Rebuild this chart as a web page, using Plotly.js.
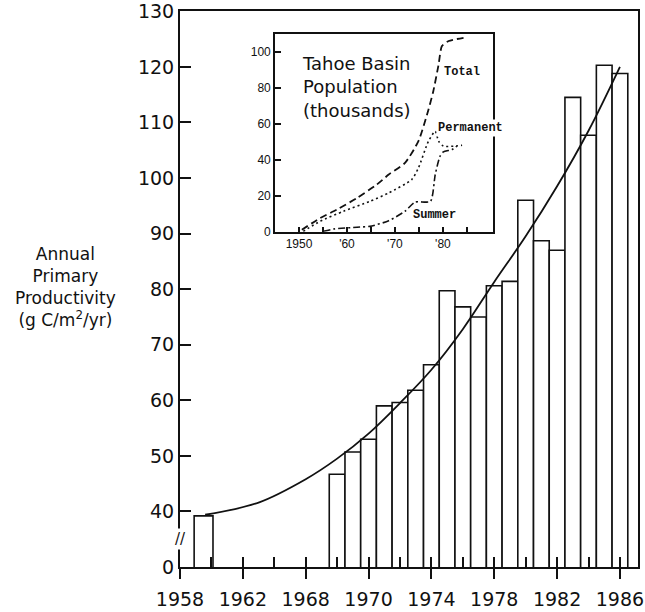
<!DOCTYPE html>
<html>
<head>
<meta charset="utf-8">
<script src="https://cdn.plot.ly/plotly-3.0.1.min.js"></script>
<style>html,body{margin:0;padding:0;background:#fff;}#chart{width:645px;height:612px;}</style>
</head>
<body>
<div id="chart"></div>
<script>
// ---- Main chart data (annual primary productivity, g C/m2/yr) ----
const barYears = [1959.5, 1968, 1969, 1970, 1971, 1972, 1973, 1974, 1975, 1976, 1977, 1978, 1979, 1980, 1981, 1982, 1983, 1984, 1985, 1986];
const barValues = [39.2, 46.7, 50.7, 53.0, 59.0, 59.6, 61.8, 66.4, 79.7, 76.8, 75.0, 80.6, 81.4, 96.0, 88.7, 87.0, 114.5, 107.7, 120.3, 118.8];

// fitted trend curve
const curveYears = [1959.6, 1963, 1966, 1968, 1970, 1972, 1974, 1976, 1978, 1980, 1982, 1984, 1986];
const curveValues = [39.4, 41.6, 45.8, 49.5, 54.0, 59.5, 65.5, 72.8, 81.3, 89.5, 98.5, 108.5, 120.0];

// axis ticks (axis is broken: bottom tick labelled 0)
const yTickVals = [30, 40, 50, 60, 70, 80, 90, 100, 110, 120, 130];
const yTickText = ['0', '40', '50', '60', '70', '80', '90', '100', '110', '120', '130'];
const xTickVals = [1958, 1962, 1966, 1970, 1974, 1978, 1982, 1986];
const xTickText = ['1958', '1962', '1968', '1970', '1974', '1978', '1982', '1986'];
const xMinorVals = [1958, 1960, 1962, 1964, 1966, 1968, 1970, 1972, 1974, 1976, 1978, 1980, 1982, 1984, 1986];

// ---- Inset: Tahoe Basin population (thousands) ----
const totalYears = [1950.6, 1954.4, 1957.9, 1962.1, 1966.2, 1968.7, 1972.1, 1974.9, 1976.7, 1978.0, 1979.1, 1979.8, 1981.2, 1984.3];
const totalPop = [1.1, 7.6, 12.3, 18.8, 26.2, 31.8, 38.3, 50.4, 65.2, 78.2, 93.0, 103.3, 106.1, 107.9];
const permYears = [1950.9, 1954.4, 1959.3, 1964.8, 1968.7, 1973.5, 1974.9, 1977.0, 1978.4, 1979.1, 1980.1, 1982.2, 1984.0];
const permPop = [0.2, 5.8, 11.4, 16.9, 21.6, 29.0, 35.5, 50.4, 55.9, 50.4, 47.6, 47.6, 48.1];
const summerYears = [1955.1, 1957.2, 1962.1, 1964.8, 1968.7, 1972.1, 1974.2, 1977.4, 1978.4, 1979.4, 1980.1, 1981.9, 1982.9];
const summerPop = [0.2, 1.5, 2.5, 3.0, 6.1, 11.4, 16.5, 16.9, 31.8, 42.0, 44.4, 45.7, 47.6];
const insetXTickVals = [1950, 1960, 1970, 1980];
const insetXTickText = ['1950', "'60", "'70", "'80"];
const insetXMinorVals = [1955, 1965, 1975, 1985];
const insetYTickVals = [0, 20, 40, 60, 80, 100];

const FONT = 'DejaVu Sans';
const barWidths = barYears.map((y, i) => i === 0 ? 1.2 : 1);

const traces = [
  {
    type: 'bar', x: barYears, y: barValues, width: barWidths,
    marker: {color: '#ffffff', line: {color: '#111', width: 1.6}},
    xaxis: 'x', yaxis: 'y', hoverinfo: 'skip'
  },
  {
    type: 'scatter', mode: 'lines', x: curveYears, y: curveValues,
    line: {color: '#111', width: 1.8, shape: 'spline', smoothing: 1},
    xaxis: 'x', yaxis: 'y'
  },
  {
    type: 'scatter', mode: 'lines', x: [null], y: [null],
    xaxis: 'x2', yaxis: 'y', showlegend: false
  },
  {
    type: 'scatter', mode: 'lines', x: totalYears, y: totalPop,
    line: {color: '#111', width: 1.8, dash: '7px,4px', shape: 'spline', smoothing: 0.6},
    xaxis: 'x3', yaxis: 'y3'
  },
  {
    type: 'scatter', mode: 'lines', x: permYears, y: permPop,
    line: {color: '#111', width: 1.6, dash: '2px,3px', shape: 'spline', smoothing: 0.6},
    xaxis: 'x3', yaxis: 'y3'
  },
  {
    type: 'scatter', mode: 'lines', x: summerYears, y: summerPop,
    line: {color: '#111', width: 1.6, dash: '7px,3px,2px,3px', shape: 'spline', smoothing: 0.6},
    xaxis: 'x3', yaxis: 'y3'
  }
];

const layout = {
  width: 645, height: 612,
  margin: {l: 180, r: 7, t: 11, b: 45},
  paper_bgcolor: '#fff', plot_bgcolor: 'rgba(0,0,0,0)',
  showlegend: false,
  font: {family: FONT, color: '#111'},
  bargap: 0,
  xaxis: {
    range: [1958, 1987.15], tickmode: 'array', tickvals: xTickVals, ticktext: xTickText,
    ticks: 'outside', ticklen: 10, tickwidth: 2, tickcolor: '#111',
    ticklabelstandoff: 4,
    showline: true, linecolor: '#111', linewidth: 2, mirror: true,
    showgrid: false, zeroline: false,
    tickfont: {family: FONT, size: 19, color: '#111'}
  },
  xaxis2: {
    overlaying: 'x', anchor: 'y', side: 'bottom', range: [1958, 1987.15],
    tickmode: 'array', tickvals: xMinorVals, ticks: 'inside', ticklen: 10, tickwidth: 2, tickcolor: '#111',
    showticklabels: false, showline: false, showgrid: false, zeroline: false
  },
  yaxis: {
    range: [30, 130.05], tickmode: 'array', tickvals: yTickVals, ticktext: yTickText,
    ticks: 'inside', ticklen: 11, tickwidth: 2, tickcolor: '#111',
    ticklabeloverflow: 'allow',
    showline: true, linecolor: '#111', linewidth: 2, mirror: true,
    showgrid: false, zeroline: false,
    tickfont: {family: FONT, size: 19, color: '#111'}
  },
  xaxis3: {
    domain: [0.2074, 0.684], anchor: 'y3', range: [1945, 1990.5],
    tickmode: 'array', tickvals: insetXTickVals, ticktext: insetXTickText,
    ticks: 'inside', ticklen: 5, tickwidth: 1.5, tickcolor: '#111',
    minor: {tickmode: 'array', tickvals: insetXMinorVals, ticks: 'inside', ticklen: 5, tickwidth: 1.5, tickcolor: '#111'},
    showline: true, linecolor: '#111', linewidth: 1.8, mirror: true,
    showgrid: false, zeroline: false,
    tickfont: {family: 'Liberation Sans', size: 12, color: '#111'}
  },
  yaxis3: {
    domain: [0.603, 0.9586], anchor: 'x3', range: [0, 110],
    tickmode: 'array', tickvals: insetYTickVals,
    ticks: 'inside', ticklen: 6, tickwidth: 1.5, tickcolor: '#111',
    showline: true, linecolor: '#111', linewidth: 1.8, mirror: true,
    showgrid: false, zeroline: false,
    tickfont: {family: 'Liberation Sans', size: 12, color: '#111'}
  },
  annotations: [
    {
      xref: 'paper', yref: 'paper', x: -0.249, y: 0.504, xanchor: 'center', yanchor: 'middle',
      text: 'Annual<br>Primary<br>Productivity<br>(g C/m<sup>2</sup>/yr)', showarrow: false, align: 'center',
      font: {family: FONT, size: 17, color: '#111'}
    },
    {
      xref: 'paper', yref: 'y', x: 0, y: 35, xanchor: 'center', yanchor: 'middle',
      text: '//', showarrow: false, bgcolor: '#fff',
      font: {family: FONT, size: 15, color: '#111'}
    },
    {
      xref: 'x3 domain', yref: 'y3 domain', x: 0.115, y: 0.915, xanchor: 'left', yanchor: 'top',
      text: 'Tahoe Basin<br>Population<br>(thousands)', showarrow: false, align: 'left',
      font: {family: FONT, size: 18, color: '#111'}
    },
    {
      xref: 'x3', yref: 'y3', x: 1984.0, y: 89, xanchor: 'center', yanchor: 'middle',
      text: 'Total', showarrow: false,
      font: {family: 'Liberation Mono', size: 12, color: '#111', weight: 'bold'}
    },
    {
      xref: 'x3', yref: 'y3', x: 1985.7, y: 57.8, xanchor: 'center', yanchor: 'middle',
      text: 'Permanent', showarrow: false, bgcolor: '#fff',
      font: {family: 'Liberation Mono', size: 12, color: '#111', weight: 'bold'}
    },
    {
      xref: 'x3', yref: 'y3', x: 1978.2, y: 9.5, xanchor: 'center', yanchor: 'middle',
      text: 'Summer', showarrow: false,
      font: {family: 'Liberation Mono', size: 12, color: '#111', weight: 'bold'}
    }
  ]
};

Plotly.newPlot('chart', traces, layout, {displayModeBar: false, staticPlot: true});
</script>
</body>
</html>
